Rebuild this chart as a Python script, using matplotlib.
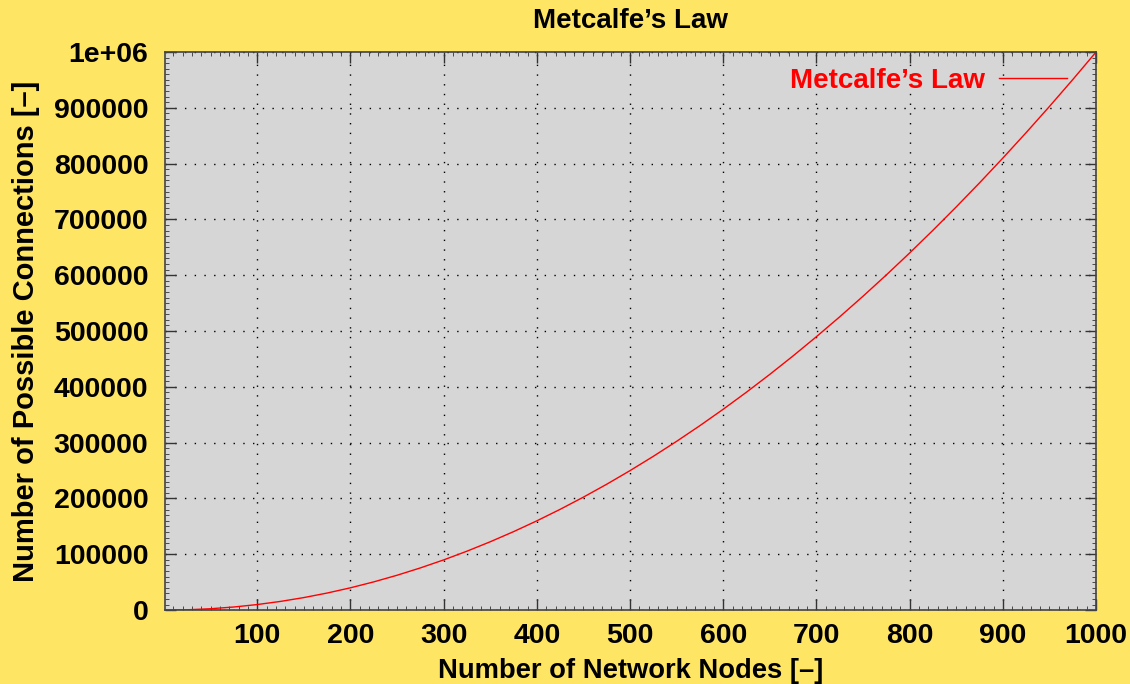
import matplotlib.pyplot as plt
from matplotlib.ticker import MultipleLocator

plt.rcParams['font.family'] = ['Liberation Sans', 'DejaVu Sans']
plt.rcParams['font.weight'] = 'bold'

# values
nodes = [1, 25, 50, 75, 100, 125, 150, 175, 200, 225, 250, 275, 300, 325, 350,
         375, 400, 425, 450, 475, 500, 525, 550, 575, 600, 625, 650, 675, 700,
         725, 750, 775, 800, 825, 850, 875, 900, 925, 950, 975, 1000]
connections = [1, 625, 2500, 5625, 10000, 15625, 22500, 30625, 40000, 50625,
               62500, 75625, 90000, 105625, 122500, 140625, 160000, 180625,
               202500, 225625, 250000, 275625, 302500, 330625, 360000, 390625,
               422500, 455625, 490000, 525625, 562500, 600625, 640000, 680625,
               722500, 765625, 810000, 855625, 902500, 950625, 1000000]
xticks = [100, 200, 300, 400, 500, 600, 700, 800, 900, 1000]
yticks = [0, 100000, 200000, 300000, 400000, 500000, 600000, 700000, 800000, 900000, 1000000]
ylabels = ['0', '100000', '200000', '300000', '400000', '500000', '600000',
           '700000', '800000', '900000', '1e+06']

fig = plt.figure(figsize=(11.3, 6.84), dpi=100, facecolor='#ffe564')
ax = fig.add_axes([0.146, 0.108, 0.824, 0.816])
ax.set_facecolor('#d6d6d6')

ax.plot(nodes, connections, color='red', lw=1, label='Metcalfe\u2019s Law')
ax.set_xlim(1, 1000)
ax.set_ylim(0, 1000000)
ax.set_xticks(xticks)
ax.set_yticks(yticks)
ax.set_yticklabels(ylabels)
ax.xaxis.set_minor_locator(MultipleLocator(10))
ax.yaxis.set_minor_locator(MultipleLocator(10000))
ax.tick_params(which='both', direction='in', top=True, right=True, labelsize=20.5, color='#333333')
ax.tick_params(which='major', length=8, width=1)
ax.tick_params(which='minor', length=3, width=0.6)
ax.tick_params(axis='x', pad=9)
ax.tick_params(axis='y', pad=12)
ax.grid(True, color='black', linestyle=(0, (1, 6)), lw=1)
for s in ax.spines.values():
    s.set_color('#444444')
    s.set_linewidth(1.2)

ax.set_title('Metcalfe\u2019s Law', fontsize=20, fontweight='bold', pad=17)
ax.set_xlabel('Number of Network Nodes [\u2013]', fontsize=19.7, fontweight='bold', labelpad=7)
ax.set_ylabel('Number of Possible Connections [\u2013]', fontsize=21, fontweight='bold', labelpad=10)

ax.legend(loc='upper right', bbox_to_anchor=(0.99, 1.006), frameon=False, markerfirst=False,
          labelcolor='red', fontsize=20, handlelength=2.45, handletextpad=0.5, borderaxespad=0.3)

fig.savefig('out.png', dpi=100, facecolor=fig.get_facecolor())
